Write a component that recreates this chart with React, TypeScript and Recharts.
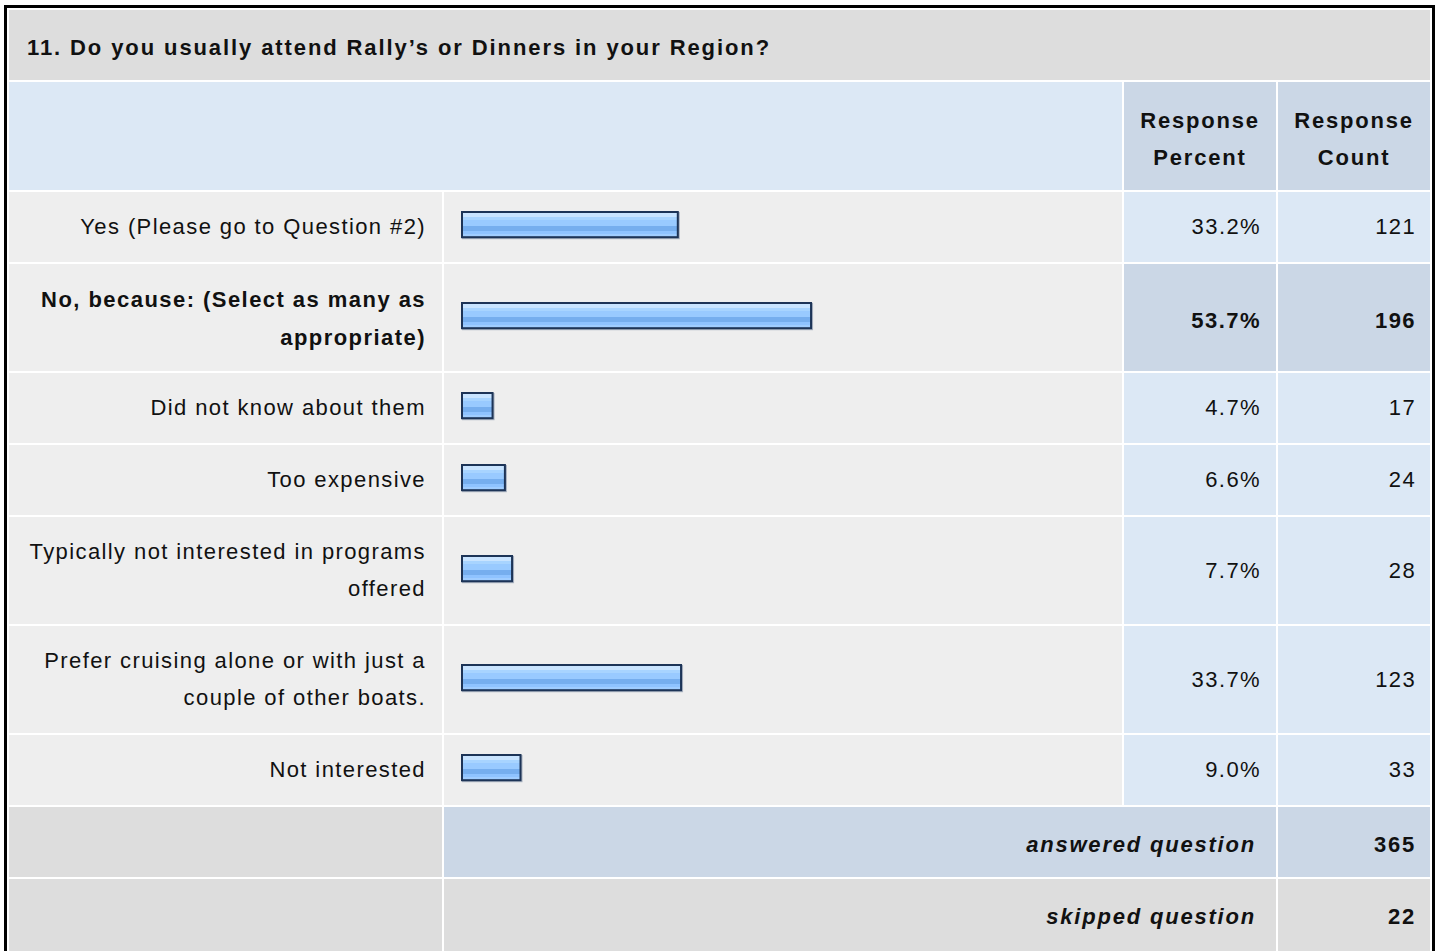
import { Bar, BarChart, XAxis, YAxis } from "recharts";

const questionTitle = "11. Do you usually attend Rally’s or Dinners in your Region?";
const answerLabels = [
  "Yes (Please go to Question #2)",
  "No, because: (Select as many as appropriate)",
  "Did not know about them",
  "Too expensive",
  "Typically not interested in programs offered",
  "Prefer cruising alone or with just a couple of other boats.",
  "Not interested",
];
const responsePercents = [33.2, 53.7, 4.7, 6.6, 7.7, 33.7, 9.0];
const responseCounts = [121, 196, 17, 24, 28, 123, 33];
const groupHeading = "No, because: (Select as many as appropriate)";
const answeredCount = 365;
const skippedCount = 22;

const FONT = "'Liberation Sans', Arial, Helvetica, sans-serif";
const GRAY = "#eeeeee";
const DARK_GRAY = "#dddddd";
const LIGHT_BLUE = "#dce8f5";
const MID_BLUE = "#cbd7e6";

function GlossyBar(props: any) {
  const { x, y, width, height, fill } = props;
  if (!width || width <= 0) return null;
  return (
    <g>
      <rect x={x + 1} y={y + 1} width={width} height={height} fill="none" stroke="#8a97ab" strokeWidth={2} opacity={0.7} />
      <rect x={x} y={y} width={width} height={height} fill={fill} stroke="#1d3457" strokeWidth={2} />
    </g>
  );
}

function RowBar({ value, idx }: { value: number; idx: number }) {
  const id = `glossy-${idx}`;
  return (
    <BarChart
      width={678}
      height={44}
      data={[{ name: "row", value }]}
      layout="vertical"
      margin={{ top: 6, right: 10, bottom: 10, left: 18 }}
    >
      <defs>
        <linearGradient id={id} x1="0" y1="0" x2="0" y2="1">
          <stop offset="0%" stopColor="#c9e4ff" />
          <stop offset="18%" stopColor="#c9e4ff" />
          <stop offset="18%" stopColor="#a8d4ff" />
          <stop offset="32%" stopColor="#a8d4ff" />
          <stop offset="32%" stopColor="#99caff" />
          <stop offset="54%" stopColor="#99caff" />
          <stop offset="54%" stopColor="#76aeee" />
          <stop offset="75%" stopColor="#76aeee" />
          <stop offset="75%" stopColor="#8fc3ff" />
          <stop offset="89%" stopColor="#8fc3ff" />
          <stop offset="89%" stopColor="#a0cdff" />
          <stop offset="100%" stopColor="#a0cdff" />
        </linearGradient>
      </defs>
      <XAxis type="number" domain={[0, 100]} hide />
      <YAxis type="category" dataKey="name" hide />
      <Bar dataKey="value" barSize={28} fill={`url(#${id})`} shape={<GlossyBar />} isAnimationActive={false} />
    </BarChart>
  );
}

const base: React.CSSProperties = {
  fontFamily: FONT,
  fontSize: 22,
  lineHeight: "37px",
  color: "#111",
  letterSpacing: 1.4,
};

const bold: React.CSSProperties = { fontWeight: 700, letterSpacing: 1.8 };
const rowBold: React.CSSProperties = { fontWeight: 700, letterSpacing: 1.45 };

export default function App() {
  return (
    <div style={{ position: "absolute", left: 4, top: 5, border: "3px solid #000", background: "#fff" }}>
      <table style={{ borderCollapse: "separate", borderSpacing: 2, tableLayout: "fixed", width: 1425 }}>
        <colgroup>
          <col style={{ width: 433 }} />
          <col style={{ width: 678 }} />
          <col style={{ width: 152 }} />
          <col style={{ width: 152 }} />
        </colgroup>
        <tbody>
          <tr>
            <td
              colSpan={4}
              style={{ ...base, ...bold, letterSpacing: 1.9, background: DARK_GRAY, padding: "19px 0 14px 18px" }}
            >
              {questionTitle}
            </td>
          </tr>
          <tr>
            <td colSpan={2} style={{ ...base, background: LIGHT_BLUE, padding: 0 }} />
            <td style={{ ...base, ...bold, textAlign: "center", background: MID_BLUE, padding: "20px 0 14px" }}>
              Response Percent
            </td>
            <td style={{ ...base, ...bold, textAlign: "center", background: MID_BLUE, padding: "20px 0 14px" }}>
              Response Count
            </td>
          </tr>
          {answerLabels.map((label, i) => {
            const isGroup = label === groupHeading;
            const cellBg = isGroup ? MID_BLUE : LIGHT_BLUE;
            const weight = isGroup ? rowBold : {};
            const labelPad = isGroup ? "17px 16px 14px 8px" : "16px 16px 17px 8px";
            const valuePad = isGroup ? "19px 0 14px" : "16px 0 17px";
            return (
              <tr key={label}>
                <td
                  style={{
                    ...base,
                    ...weight,
                    lineHeight: isGroup ? "38px" : "37px",
                    textAlign: "right",
                    background: GRAY,
                    padding: labelPad,
                  }}
                >
                  {label}
                </td>
                <td style={{ background: GRAY, padding: 0, verticalAlign: "middle" }}>
                  <RowBar value={responsePercents[i]} idx={i} />
                </td>
                <td style={{ ...base, ...weight, textAlign: "right", background: cellBg, padding: valuePad, paddingRight: 15 }}>
                  {responsePercents[i].toFixed(1)}%
                </td>
                <td style={{ ...base, ...weight, textAlign: "right", background: cellBg, padding: valuePad, paddingRight: 14 }}>
                  {responseCounts[i]}
                </td>
              </tr>
            );
          })}
          <tr>
            <td style={{ ...base, background: DARK_GRAY, padding: "19px 0 14px" }} />
            <td
              colSpan={2}
              style={{ ...base, ...bold, fontStyle: "italic", textAlign: "right", background: MID_BLUE, padding: "19px 20px 14px 0" }}
            >
              answered question
            </td>
            <td style={{ ...base, ...bold, textAlign: "right", background: MID_BLUE, padding: "19px 14px 14px 0" }}>
              {answeredCount}
            </td>
          </tr>
          <tr>
            <td style={{ ...base, background: DARK_GRAY, padding: "19px 0 24px" }} />
            <td
              colSpan={2}
              style={{ ...base, ...bold, fontStyle: "italic", textAlign: "right", background: DARK_GRAY, padding: "19px 20px 24px 0" }}
            >
              skipped question
            </td>
            <td style={{ ...base, ...bold, textAlign: "right", background: DARK_GRAY, padding: "19px 14px 24px 0" }}>
              {skippedCount}
            </td>
          </tr>
        </tbody>
      </table>
    </div>
  );
}
